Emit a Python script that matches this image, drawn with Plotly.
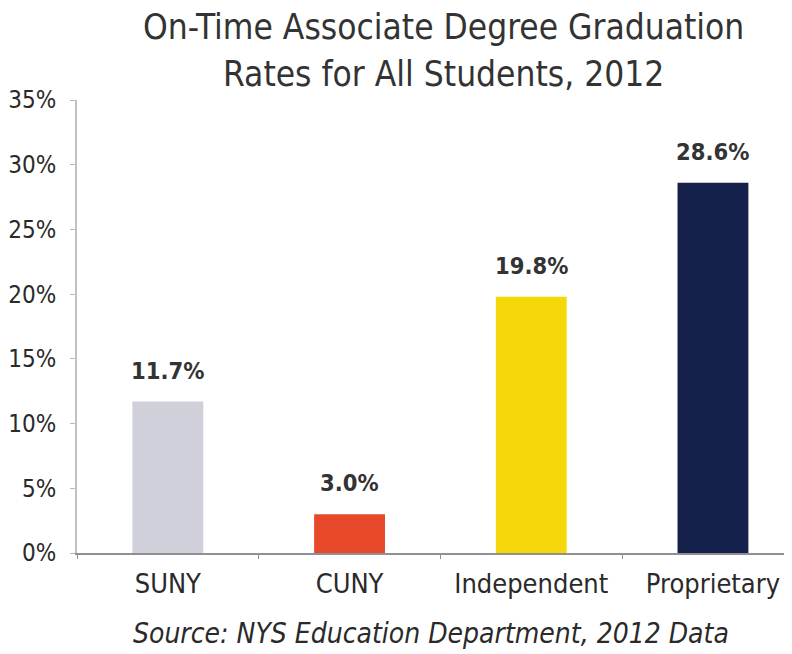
import plotly.graph_objects as go

categories = ["SUNY", "CUNY", "Independent", "Proprietary"]
rates = [11.7, 3.0, 19.8, 28.6]
bar_colors = ["#cfd0da", "#e8492a", "#f5d80a", "#15214a"]
y_ticks = [0, 5, 10, 15, 20, 25, 30, 35]
y_tick_labels = [f"{v}%" for v in y_ticks]
title_lines = ["On-Time Associate Degree Graduation", "Rates for All Students, 2012"]
source_text = "Source: NYS Education Department, 2012 Data"

FONT = "DejaVu Sans Condensed, Liberation Sans Narrow, sans-serif"

fig = go.Figure(go.Bar(
    x=categories, y=rates, marker_color=bar_colors, width=0.39,
    marker_line_width=0, hoverinfo="skip",
))

for c, v in zip(categories, rates):
    fig.add_annotation(x=c, y=v, text=f"<b>{v:.1f}%</b>", showarrow=False,
                       yanchor="bottom", yshift=15,
                       font=dict(family=FONT, size=23.5, color="#333333"))

for line, ypos in zip(title_lines, [1.161, 1.0574]):
    fig.add_annotation(xref="paper", yref="paper", x=0.512, y=ypos,
                       xanchor="center", yanchor="middle", text=line, showarrow=False,
                       font=dict(family=FONT, size=35, color="#333333"))

fig.add_annotation(xref="paper", yref="paper", x=0.495, y=-0.178, yanchor="middle",
                   text=f"<i>{source_text}</i>",
                   showarrow=False, font=dict(family=FONT, size=28, color="#2a2a2a"))

fig.update_layout(
    width=784, height=646,
    margin=dict(l=69, r=0, t=92, b=101),
    paper_bgcolor="white", plot_bgcolor="white",
    showlegend=False,
    xaxis=dict(range=[-0.5, 3.435], showline=True, linecolor="#8f8f96", linewidth=1.5,
               tickson="boundaries", ticks="outside", ticklen=4, tickcolor="#8f8f96",
               ticklabelstandoff=6,
               tickfont=dict(family=FONT, size=27, color="#2a2a2a"), showgrid=False),
    yaxis=dict(range=[0, 35], tickvals=y_ticks, ticktext=y_tick_labels,
               showline=True, linecolor="#c0c0c8", linewidth=2,
               ticks="outside", ticklen=5, tickcolor="#b8b8c2",
               ticklabelstandoff=9,
               tickfont=dict(family=FONT, size=24, color="#2a2a2a"),
               showgrid=False, zeroline=False),
)

fig.write_html("out.html")
